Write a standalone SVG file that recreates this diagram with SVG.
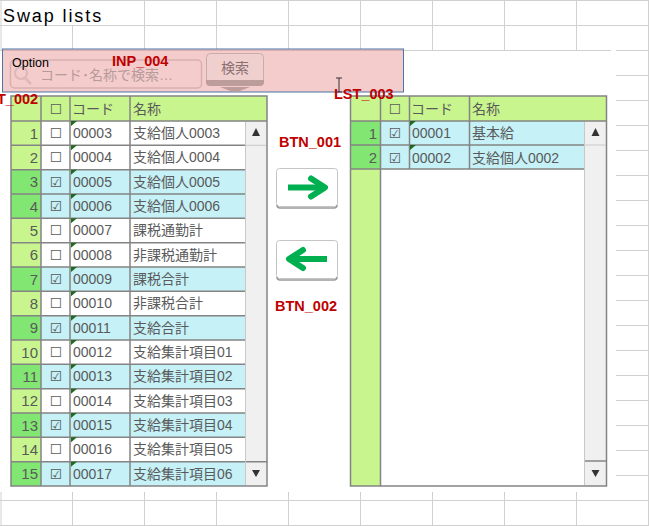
<svg xmlns="http://www.w3.org/2000/svg" width="649" height="526" viewBox="0 0 649 526">
<style>
text{font-family:"Liberation Sans","Noto Sans CJK JP",sans-serif}
.g{stroke:#d0d0d0;stroke-width:1;fill:none}
.c{stroke:#848484;stroke-width:1.5;fill:none}
.h{fill:#c9f58e}.hs{fill:#82e673}.s{fill:#c5f1f7}.w{fill:#fff}.sb{fill:#f0f0f0}
.t{font-size:14px;fill:#5a5a5a}
.n{font-size:15px;fill:#5a5a5a;text-anchor:end}
.k{font-size:14px;fill:#5a5a5a;text-anchor:middle;font-family:"DejaVu Sans",sans-serif}
.r{font-size:14.500px;font-weight:bold;fill:#c00000}
.tri{fill:#1f6a1f}
</style>
<rect width="649" height="526" fill="#fff"/>
<path class="g" d="M0 .5H649M0 25.5H649M0 50.5H611M616 50.5H649M616 75.5H649M616 100.5H649M616 125.5H649M616 150.5H649M616 175.5H649M616 200.5H649M616 225.5H649M616 250.5H649M616 275.5H649M616 300.5H649M616 325.5H649M616 350.5H649M616 375.5H649M616 400.5H649M616 425.5H649M616 450.5H649M616 475.5H649M0 500.5H649M0 525.5H649M1 0V50M1 492V526M72.5 25V50M72.5 492V526M144.5 0V50M144.5 492V526M216.5 0V50M216.5 492V526M288.5 0V50M288.5 492V526M360.5 0V50M360.5 492V526M432.5 0V50M432.5 492V526M504.5 0V50M504.5 492V526M576.5 0V50M576.5 492V526M648.5 0V526"/>
<text x="3" y="22" font-size="18" letter-spacing="1.900" fill="#000">Swap lists</text>

<g id="INP_004">
<rect x="2.500" y="49" width="401" height="43" fill="#f4cccc" stroke="#4a76a8"/>
<path d="M3 50.500H403" stroke="#dcaeae"/>
<rect x="10.500" y="60" width="191" height="28" rx="4" fill="#f4cccc" stroke="#d9b0b0" stroke-width="1.500"/>
<circle cx="21" cy="73" r="6" fill="none" stroke="#dcb8b8" stroke-width="2"/>
<path d="M25 78L31 84" stroke="#dcb8b8" stroke-width="2.500"/>
<text x="40" y="80" font-size="14" fill="#b79a9a">コード･名称で検索…</text>
<rect x="206.500" y="53.500" width="57" height="30" rx="4" fill="#f0cfcf" stroke="#c9abab"/>
<path d="M206 80H264V82Q264 86 260 86H210Q206 86 206 82Z" fill="#bd9c9c"/>
<text x="235" y="73" font-size="14" fill="#8a7070" text-anchor="middle">検索</text>
<path d="M220 87H250L237 92H233Z" fill="#bd9c9c"/>
<text x="12" y="67" font-size="12.500" fill="#000">Option</text>
</g>
<text class="r" x="112" y="66">INP_004</text>

<g id="LST_002">
<rect x="11" y="96" width="256" height="390" class="w"/>
<rect x="245" y="121" width="22" height="365" class="sb"/>
<rect x="11" y="96" width="256" height="25" class="h"/>
<rect x="11" y="121" width="30" height="24.300" class="h"/><rect x="11" y="145.300" width="30" height="24.300" class="h"/>
<rect x="11" y="169.700" width="30" height="24.300" class="hs"/><rect x="41" y="169.700" width="204" height="24.300" class="s"/>
<rect x="11" y="194" width="30" height="24.300" class="hs"/><rect x="41" y="194" width="204" height="24.300" class="s"/>
<rect x="11" y="218.300" width="30" height="24.300" class="h"/><rect x="11" y="242.700" width="30" height="24.300" class="h"/>
<rect x="11" y="267" width="30" height="24.300" class="hs"/><rect x="41" y="267" width="204" height="24.300" class="s"/>
<rect x="11" y="291.300" width="30" height="24.300" class="h"/>
<rect x="11" y="315.700" width="30" height="24.300" class="hs"/><rect x="41" y="315.700" width="204" height="24.300" class="s"/>
<rect x="11" y="340" width="30" height="24.300" class="h"/>
<rect x="11" y="364.300" width="30" height="24.300" class="hs"/><rect x="41" y="364.300" width="204" height="24.300" class="s"/>
<rect x="11" y="388.700" width="30" height="24.300" class="h"/>
<rect x="11" y="413" width="30" height="24.300" class="hs"/><rect x="41" y="413" width="204" height="24.300" class="s"/>
<rect x="11" y="437.300" width="30" height="24.300" class="h"/>
<rect x="11" y="461.700" width="30" height="24.300" class="hs"/><rect x="41" y="461.700" width="204" height="24.300" class="s"/>
<path class="c" d="M11 96H267V486H11ZM41 96V486M70 96V486M130 96V486M11 121H267M11 145.300H245M11 169.700H245M11 194H245M11 218.300H245M11 242.700H245M11 267H245M11 291.300H245M11 315.700H245M11 340H245M11 364.300H245M11 388.700H245M11 413H245M11 437.300H245M11 461.700H267"/>
<path d="M245.500 122V485M245 145.300H266" stroke="#c8c8c8" fill="none"/>
<path class="tri" d="M71 121H77L71 126ZM71 145.300H77L71 150.300ZM71 169.700H77L71 174.700ZM71 194H77L71 199ZM71 218.300H77L71 223.300ZM71 242.700H77L71 247.700ZM71 267H77L71 272ZM71 291.300H77L71 296.300ZM71 315.700H77L71 320.700ZM71 340H77L71 345ZM71 364.300H77L71 369.300ZM71 388.700H77L71 393.700ZM71 413H77L71 418ZM71 437.300H77L71 442.300ZM71 461.700H77L71 466.700Z"/>
<path d="M252 136H260L256 128ZM252 470H260L256 477Z" fill="#333"/>
<text class="k" x="56" y="114">☐</text><text x="72" y="114" class="t">コード</text><text x="133" y="114" class="t">名称</text>
<text class="n" x="38" y="139">1</text><text class="k" x="56" y="138">☐</text><text class="t" x="73" y="138">00003</text><text class="t" x="133" y="138">支給個人0003</text>
<text class="n" x="38" y="163">2</text><text class="k" x="56" y="162">☐</text><text class="t" x="73" y="162">00004</text><text class="t" x="133" y="162">支給個人0004</text>
<text class="n" x="38" y="187">3</text><text class="k" x="56" y="187">☑</text><text class="t" x="73" y="187">00005</text><text class="t" x="133" y="187">支給個人0005</text>
<text class="n" x="38" y="212">4</text><text class="k" x="56" y="211">☑</text><text class="t" x="73" y="211">00006</text><text class="t" x="133" y="211">支給個人0006</text>
<text class="n" x="38" y="236">5</text><text class="k" x="56" y="235">☐</text><text class="t" x="73" y="235">00007</text><text class="t" x="133" y="235">課税通勤計</text>
<text class="n" x="38" y="260">6</text><text class="k" x="56" y="260">☐</text><text class="t" x="73" y="260">00008</text><text class="t" x="133" y="260">非課税通勤計</text>
<text class="n" x="38" y="285">7</text><text class="k" x="56" y="284">☑</text><text class="t" x="73" y="284">00009</text><text class="t" x="133" y="284">課税合計</text>
<text class="n" x="38" y="309">8</text><text class="k" x="56" y="308">☐</text><text class="t" x="73" y="308">00010</text><text class="t" x="133" y="308">非課税合計</text>
<text class="n" x="38" y="333">9</text><text class="k" x="56" y="333">☑</text><text class="t" x="73" y="333">00011</text><text class="t" x="133" y="333">支給合計</text>
<text class="n" x="38" y="358">10</text><text class="k" x="56" y="357">☐</text><text class="t" x="73" y="357">00012</text><text class="t" x="133" y="357">支給集計項目01</text>
<text class="n" x="38" y="382">11</text><text class="k" x="56" y="381">☑</text><text class="t" x="73" y="381">00013</text><text class="t" x="133" y="381">支給集計項目02</text>
<text class="n" x="38" y="406">12</text><text class="k" x="56" y="406">☐</text><text class="t" x="73" y="406">00014</text><text class="t" x="133" y="406">支給集計項目03</text>
<text class="n" x="38" y="431">13</text><text class="k" x="56" y="430">☑</text><text class="t" x="73" y="430">00015</text><text class="t" x="133" y="430">支給集計項目04</text>
<text class="n" x="38" y="455">14</text><text class="k" x="56" y="454">☐</text><text class="t" x="73" y="454">00016</text><text class="t" x="133" y="454">支給集計項目05</text>
<text class="n" x="38" y="479">15</text><text class="k" x="56" y="479">☑</text><text class="t" x="73" y="479">00017</text><text class="t" x="133" y="479">支給集計項目06</text>
</g>
<text class="r" x="-3" y="104">T_002</text>

<g id="BTN_001">
<rect x="276.500" y="168.500" width="61" height="38" rx="3" fill="#fff" stroke="#c4c4c4"/>
<path d="M277 205Q277 208 280 208H334Q337 208 337 205" fill="none" stroke="#9a9a9a" stroke-width="1.500"/>
<path d="M288 187.500H325" fill="none" stroke="#00b050" stroke-width="6"/>
<path d="M311 178.500L325 187.500L311 196.500" fill="none" stroke="#00b050" stroke-width="6" stroke-linecap="round" stroke-linejoin="round"/>
</g>
<text class="r" x="279" y="147">BTN_001</text>
<g id="BTN_002">
<rect x="276.500" y="240.500" width="61" height="38" rx="3" fill="#fff" stroke="#c4c4c4"/>
<path d="M277 277Q277 280 280 280H334Q337 280 337 277" fill="none" stroke="#9a9a9a" stroke-width="1.500"/>
<path d="M327 259H289" fill="none" stroke="#00b050" stroke-width="6"/>
<path d="M303 250L289 259L303 268" fill="none" stroke="#00b050" stroke-width="6" stroke-linecap="round" stroke-linejoin="round"/>
</g>
<text class="r" x="275" y="311">BTN_002</text>

<g id="LST_003">
<rect x="350.500" y="96" width="256" height="390" class="w"/>
<rect x="585" y="121" width="22" height="365" class="sb"/>
<rect x="350.500" y="96" width="256" height="25" class="h"/>
<rect x="350.500" y="121" width="30" height="365" class="h"/>
<rect x="350.500" y="121" width="30" height="48" class="hs"/>
<rect x="380" y="121" width="205" height="48" class="s"/>
<path class="c" d="M350.500 96H606.500V486H350.500ZM380.500 96V486M409.500 96V169M469.500 96V169M350.500 121H606.500M350.500 145H585M350.500 169H585M585 461H606.500"/>
<path d="M584.500 122V485M585 145H606" stroke="#c8c8c8" fill="none"/>
<path class="tri" d="M410 121H416L410 126ZM410 145H416L410 150Z"/>
<path d="M591.500 136H599.500L595.500 128ZM591.500 470H599.500L595.500 477Z" fill="#333"/>
<text class="k" x="395" y="114">☐</text><text class="t" x="411" y="114">コード</text><text class="t" x="472" y="114">名称</text>
<text class="n" x="377" y="139">1</text><text class="k" x="395" y="138">☑</text><text class="t" x="412" y="138">00001</text><text class="t" x="472" y="138">基本給</text>
<text class="n" x="377" y="163">2</text><text class="k" x="395" y="163">☑</text><text class="t" x="412" y="163">00002</text><text class="t" x="472" y="163">支給個人0002</text>
</g>
<path d="M336 78H342M339 78V92M336 92H342" stroke="#333" fill="none"/>
<text class="r" x="334" y="99" font-size="14">LST_003</text>
</svg>
